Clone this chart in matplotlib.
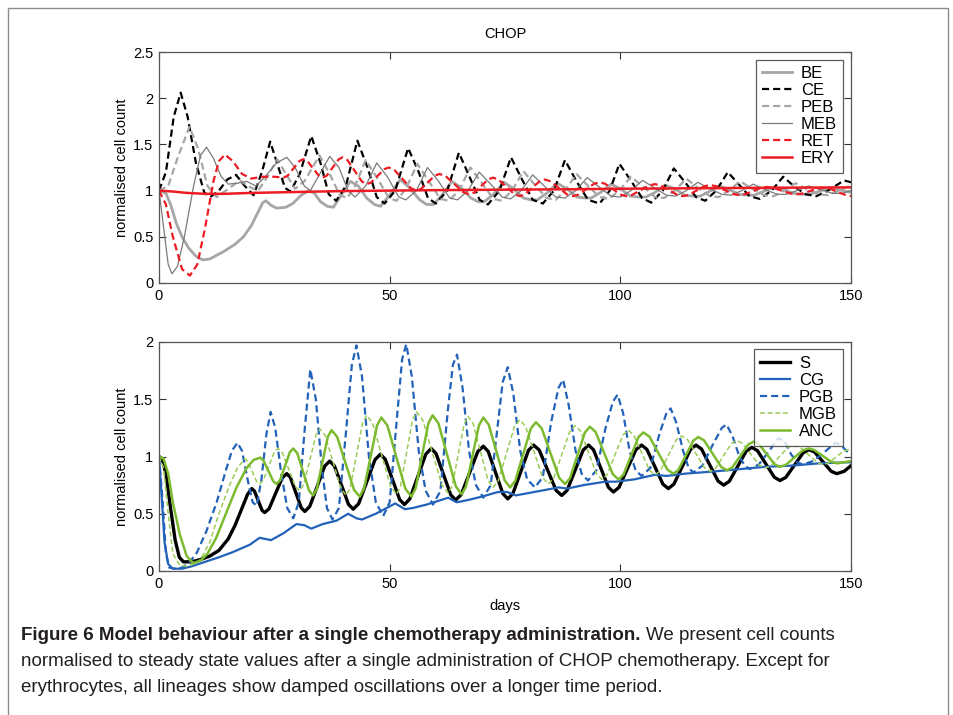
import matplotlib
matplotlib.use('Agg')
import matplotlib.pyplot as plt
from matplotlib.patches import Rectangle

# ---- top panel (erythroid lineage) ----
be_t = [0, 1.5, 2.5, 3.8, 5, 6.4, 8, 9.5, 11, 14, 16.5, 18.3, 20, 21.2, 22.5, 23.2, 24.3, 25.5, 27.5, 29,
        30.8, 32.5, 33.7, 35, 36.5, 37.8, 39.5, 41.5, 43.2, 45, 46.7, 48, 50, 52.3, 54.3, 56.5, 58, 59.5,
        61.3, 63.5, 65.5, 67.6, 69.2, 70.5, 72.5, 74.8, 76.8, 79, 80.6, 82, 84, 86.3, 88.4, 90.6, 92.3,
        93.7, 95.7, 98, 100, 102.2, 104, 105.5, 107.5, 109.7, 111.8, 114, 115.8, 117.3, 119.3, 121.5,
        123.6, 125.8, 127.6, 129, 131, 133.3, 135.4, 137.6, 139.5, 141, 143, 145.2, 147.3, 150]
be_y = [1.0, 0.97, 0.85, 0.64, 0.5, 0.38, 0.29, 0.25, 0.26, 0.34, 0.42, 0.5, 0.62, 0.74, 0.87, 0.89, 0.84,
        0.81, 0.82, 0.86, 0.95, 1.0, 0.97, 0.88, 0.83, 0.82, 0.95, 1.1, 1.05, 0.92, 0.85, 0.83, 0.95, 1.12,
        1.03, 0.9, 0.85, 0.85, 0.95, 1.1, 1.03, 0.92, 0.88, 0.88, 0.96, 1.09, 1.02, 0.92, 0.9, 0.9, 0.97,
        1.08, 1.02, 0.93, 0.92, 0.92, 0.98, 1.07, 1.02, 0.94, 0.93, 0.93, 0.98, 1.06, 1.02, 0.95, 0.94,
        0.94, 0.99, 1.05, 1.01, 0.96, 0.95, 0.95, 0.99, 1.04, 1.01, 0.97, 0.96, 0.96, 0.99, 1.03, 1.01, 0.98]

ce_t = [0, 1.5, 3.2, 4.7, 6.2, 8, 9.8, 11.1, 13, 14.8, 16.7, 18.6, 20.5, 22.3, 24.1, 25.9, 27.3, 28.5,
        30.5, 33, 35, 36.8, 38.4, 40.5, 43, 45.2, 47.2, 48.9, 51.2, 54, 56.3, 58.3, 60, 62.5, 65, 67.3,
        69.5, 71.3, 73.8, 76.3, 78.7, 81, 83.2, 85.6, 88, 90.5, 93, 95.5, 97.7, 99.8, 102.4, 104.7, 106.7,
        109.2, 111.6, 114.2, 116.4, 118.4, 120.8, 123.3, 125.8, 128, 130.2, 132.8, 135.3, 137.8, 140.2,
        142.5, 145, 148.5, 150]
ce_y = [1.0, 1.2, 1.8, 2.06, 1.8, 1.3, 0.98, 0.93, 1.0, 1.12, 1.17, 1.05, 0.95, 1.2, 1.53, 1.25, 1.03,
        0.99, 1.18, 1.59, 1.3, 0.96, 0.89, 1.05, 1.54, 1.25, 0.93, 0.86, 1.0, 1.46, 1.2, 0.92, 0.86, 1.0,
        1.41, 1.15, 0.9, 0.85, 1.0, 1.36, 1.12, 0.9, 0.86, 1.0, 1.33, 1.1, 0.9, 0.86, 1.0, 1.29, 1.1, 0.92,
        0.87, 1.0, 1.24, 1.08, 0.93, 0.89, 1.0, 1.2, 1.06, 0.94, 0.91, 1.0, 1.15, 1.04, 0.96, 0.94, 1.0,
        1.11, 1.09]

peb_t = [0, 2, 4, 6.6, 8.5, 10.5, 12.5, 14.5, 17.5, 20, 21.5, 23.5, 25.6, 27.5, 29.5, 31.5, 34.8, 37,
         39.2, 40.8, 42.5, 44.8, 47.5, 49.8, 51.5, 53.5, 56, 58.5, 61, 62.8, 65, 67.5, 70, 72.5, 74.3,
         76.5, 79, 81.5, 84, 86, 88, 90.5, 93, 95.5, 97.5, 99.8, 102.3, 105, 107.5, 109.5, 111.8, 114.3,
         116.8, 119.4, 121.4, 123.5, 126, 128.6, 131.2, 133.3, 135.5, 138, 140.6, 143, 145, 147.5, 150]
peb_y = [1.0, 1.05, 1.35, 1.69, 1.45, 1.05, 0.93, 1.0, 1.11, 1.03, 1.0, 1.15, 1.34, 1.18, 1.02, 1.1,
         1.38, 1.18, 0.95, 0.92, 1.05, 1.33, 1.12, 0.92, 0.89, 1.02, 1.29, 1.1, 0.91, 0.89, 1.0, 1.25, 1.08,
         0.91, 0.89, 1.0, 1.21, 1.06, 0.92, 0.9, 1.0, 1.18, 1.05, 0.93, 0.91, 1.0, 1.15, 1.04, 0.93, 0.92,
         1.0, 1.13, 1.03, 0.94, 0.93, 1.0, 1.1, 1.02, 0.95, 0.94, 1.0, 1.08, 1.01, 0.96, 0.95, 1.0, 1.06]

meb_t = [0, 1, 2, 2.8, 4, 5.5, 7.5, 9, 10.3, 11.8, 13.5, 15, 17, 19, 21, 23, 25.5, 27.7, 29.5, 31.5,
         32.8, 34.5, 37, 39, 41, 42.5, 44.8, 47.2, 49.5, 52, 53.5, 55.8, 58.2, 60.6, 63, 64.7, 67, 69.4,
         71.9, 74.4, 76.2, 78.5, 81, 83.5, 86, 88, 90.3, 92.8, 95.4, 98, 100, 102.3, 104.8, 107.4, 110,
         112, 114.3, 116.8, 119.4, 122, 124, 126.3, 128.8, 131.4, 134, 136, 138.3, 140.8, 143.4, 146, 148,
         150]
meb_y = [1.0, 0.6, 0.2, 0.1, 0.18, 0.5, 1.05, 1.38, 1.47, 1.35, 1.15, 1.07, 1.08, 1.1, 1.05, 1.15, 1.3,
         1.36, 1.25, 1.05, 1.0, 1.15, 1.37, 1.25, 1.0, 0.93, 1.05, 1.3, 1.15, 0.93, 0.9, 1.0, 1.25, 1.1,
         0.92, 0.9, 1.0, 1.2, 1.07, 0.93, 0.91, 1.0, 1.17, 1.05, 0.93, 0.92, 1.0, 1.14, 1.04, 0.94, 0.93,
         1.0, 1.11, 1.03, 0.95, 0.94, 1.0, 1.09, 1.02, 0.96, 0.95, 1.0, 1.07, 1.01, 0.96, 0.96, 1.0, 1.05,
         1.01, 0.97, 0.97, 1.0]

ret_t = [0, 1.5, 3, 5, 6.7, 8.3, 10, 11.8, 13, 14.3, 16, 18, 20, 22.5, 25, 27,
         27.86, 29.15, 30.44, 31.3, 32.14, 33.4, 34.66, 35.5, 36.36, 37.65, 38.94, 39.8,
         40.84, 42.4, 43.96, 45, 45.96, 47.4, 48.84, 49.8, 51, 52.8, 54.6, 55.8,
         56.8, 58.3, 59.8, 60.8, 62.1, 64.05, 66, 67.3, 68.32, 69.85, 71.38, 72.4,
         73.56, 75.3, 77.04, 78.2, 79.28, 80.9, 82.52, 83.6, 84.82, 86.65, 88.48, 89.7,
         90.86, 92.6, 94.34, 95.5, 96.66, 98.4, 100.14, 101.3, 102.54, 104.4, 106.26, 107.5,
         108.72, 110.55, 112.38, 113.6, 114.76, 116.5, 118.24, 119.4, 120.7, 122.65, 124.6, 125.9,
         126.86, 128.8, 130.54, 131.7, 133, 134.95, 136.9, 138.2, 139.36, 141.1, 142.84, 144,
         145.5, 147.3, 149, 150]
ret_y = [1.0, 0.85, 0.5, 0.15, 0.08, 0.2, 0.6, 1.1, 1.32, 1.39, 1.32, 1.18, 1.13, 1.15, 1.15, 1.14,
         1.16, 1.24, 1.32, 1.34, 1.32, 1.24, 1.16, 1.14, 1.162, 1.25, 1.338, 1.36,
         1.331, 1.215, 1.099, 1.07, 1.088, 1.16, 1.232, 1.25, 1.225, 1.125, 1.025, 1.0,
         1.018, 1.09, 1.162, 1.18, 1.158, 1.07, 0.982, 0.96, 0.978, 1.05, 1.122, 1.14,
         1.12, 1.04, 0.96, 0.94, 0.958, 1.03, 1.102, 1.12, 1.102, 1.03, 0.958, 0.94,
         0.955, 1.015, 1.075, 1.09, 1.075, 1.015, 0.955, 0.94, 0.953, 1.005, 1.057, 1.07,
         1.057, 1.005, 0.953, 0.94, 0.952, 1.0, 1.048, 1.06, 1.049, 1.005, 0.961, 0.95,
         0.959, 0.995, 1.031, 1.04, 1.032, 1.0, 0.968, 0.96, 0.967, 0.995, 1.023, 1.03,
         1.02, 0.98, 0.95, 0.94]

ery_t = [0, 3, 6, 10, 14, 20, 30, 40, 50, 60, 75, 90, 100, 115, 130, 150]
ery_y = [1.0, 0.99, 0.975, 0.965, 0.965, 0.975, 0.985, 0.995, 1.0, 1.005, 1.01, 1.015, 1.02, 1.025,
         1.03, 1.035]

# ---- bottom panel (granulocyte lineage) ----
s_t = [0, 0.7, 1.5, 2.5, 3.5, 4.4, 5.3, 7, 9, 11, 13, 15, 16.5, 18, 19.2, 20.1,
       20.66, 21.5, 22.34, 22.9, 23.86, 25.3, 26.74, 27.7, 28.48, 29.65, 30.82, 31.6,
       32.68, 34.3, 35.92, 37, 38.02, 39.55, 41.08, 42.1, 43.28, 45.05, 46.82, 48,
       49.04, 50.6, 52.16, 53.2, 54.36, 56.1, 57.84, 59, 60.06, 61.65, 63.24, 64.3,
       65.5, 67.3, 69.1, 70.3, 71.36, 72.95, 74.54, 75.6, 76.72, 78.4, 80.08, 81.2,
       82.42, 84.25, 86.08, 87.3, 88.46, 90.2, 91.94, 93.1, 94.18, 95.8, 97.42, 98.5,
       99.72, 101.55, 103.38, 104.6, 105.76, 107.5, 109.24, 110.4, 111.6, 113.4, 115.2, 116.4,
       117.6, 119.4, 121.2, 122.4, 123.62, 125.45, 127.28, 128.5, 129.72, 131.55, 133.38, 134.6,
       135.86, 137.75, 139.64, 140.9, 142.1, 143.9, 145.7, 146.9, 148.5, 150]
s_y = [1.0, 0.98, 0.85, 0.55, 0.27, 0.12, 0.08, 0.08, 0.1, 0.13, 0.18, 0.28, 0.4, 0.55, 0.67, 0.72,
       0.70, 0.615, 0.53, 0.51, 0.544, 0.68, 0.816, 0.85, 0.817, 0.685, 0.553, 0.52,
       0.564, 0.74, 0.916, 0.96, 0.918, 0.75, 0.582, 0.54, 0.588, 0.78, 0.972, 1.02,
       0.976, 0.80, 0.624, 0.58, 0.629, 0.825, 1.021, 1.07, 1.025, 0.845, 0.665, 0.62,
       0.667, 0.855, 1.043, 1.09, 1.044, 0.86, 0.676, 0.63, 0.677, 0.865, 1.053, 1.10,
       1.056, 0.88, 0.704, 0.66, 0.704, 0.88, 1.056, 1.10, 1.059, 0.895, 0.731, 0.69,
       0.731, 0.895, 1.059, 1.10, 1.062, 0.91, 0.758, 0.72, 0.758, 0.91, 1.062, 1.10,
       1.065, 0.925, 0.785, 0.75, 0.783, 0.915, 1.047, 1.08, 1.051, 0.935, 0.819, 0.79,
       0.817, 0.925, 1.033, 1.06, 1.039, 0.955, 0.871, 0.85, 0.87, 0.92]

cg_t = [0, 0.5, 1.2, 2, 3, 5, 7, 10, 13, 16, 19.7, 21.8, 23, 24.3, 27, 29.8, 31.5, 33, 35.5, 38.5, 41,
        42.8, 44, 47, 51.2, 53.3, 55, 58, 62.7, 64.5, 67, 70, 73.5, 75.5, 77.3, 80, 84, 86.6, 88.5, 92,
        96.7, 99, 103, 107.5, 110, 114, 120.5, 126, 131.4, 137, 143, 150]
cg_y = [1.0, 0.7, 0.25, 0.06, 0.02, 0.02, 0.04, 0.08, 0.12, 0.165, 0.23, 0.29, 0.28, 0.27, 0.33, 0.41,
        0.4, 0.37, 0.41, 0.44, 0.5, 0.46, 0.45, 0.5, 0.59, 0.54, 0.55, 0.58, 0.64, 0.6, 0.62, 0.65, 0.69,
        0.69, 0.66, 0.68, 0.71, 0.73, 0.72, 0.75, 0.78, 0.78, 0.8, 0.84, 0.83, 0.85, 0.87, 0.89, 0.91,
        0.92, 0.94, 0.95]

pgb_t = [0, 0.8, 1.5, 2.2, 3.5, 5, 6.5, 8.2, 10.3, 12.5, 14.5, 15.8, 17, 18, 19.2, 20.3, 21.2, 22.2,
         23.3, 24.2, 25.2, 26.5, 27.8, 29.1, 30.3, 31.5, 32.8, 34, 35.3, 36.4, 37.6, 39, 40.5, 41.8, 42.8,
         44, 45.5, 47, 48.6, 50, 51.5, 52.7, 53.6, 54.8, 56.3, 57.8, 59.4, 61, 62.6, 63.7, 64.6, 65.8,
         67.2, 68.7, 70.3, 71.9, 73.5, 74.5, 75.6, 76.8, 78.3, 79.8, 81.5, 83.2, 85, 86.6, 87.6, 88.8,
         90.3, 91.6, 93, 94.8, 96.8, 98.4, 99.4, 100.6, 102, 103.3, 104.6, 106.5, 108.5, 110, 110.9, 112.1,
         113.6, 114.8, 115.8, 117.8, 120, 122, 123, 124.3, 125.8, 127, 128, 130, 132.3, 134.2, 135.5, 137,
         138.3, 139.5, 141.8, 144.3, 146.6, 147.8, 149, 150]
pgb_y = [1.0, 0.6, 0.15, 0.03, 0.02, 0.03, 0.07, 0.16, 0.35, 0.6, 0.88, 1.05, 1.12, 1.05, 0.8, 0.6,
         0.57, 0.8, 1.2, 1.39, 1.25, 0.85, 0.55, 0.46, 0.6, 1.2, 1.76, 1.5, 0.9, 0.55, 0.45, 0.55, 1.2,
         1.8, 1.97, 1.7, 1.0, 0.6, 0.48, 0.6, 1.3, 1.85, 1.98, 1.7, 1.05, 0.7, 0.58, 0.7, 1.4, 1.8, 1.89,
         1.6, 1.05, 0.75, 0.64, 0.75, 1.3, 1.65, 1.78, 1.55, 1.05, 0.8, 0.73, 0.82, 1.3, 1.6, 1.67, 1.45,
         1.05, 0.85, 0.79, 0.88, 1.25, 1.48, 1.54, 1.38, 1.05, 0.88, 0.83, 0.9, 1.2, 1.38, 1.42, 1.3, 1.05,
         0.9, 0.86, 0.92, 1.1, 1.25, 1.28, 1.18, 1.0, 0.92, 0.89, 0.93, 1.05, 1.16, 1.14, 1.02, 0.95, 0.93,
         0.96, 1.04, 1.12, 1.1, 1.05, 1.02]

mgb_t = [0, 1, 2, 3, 4.5, 6, 7.5, 9, 11, 13, 15.3, 17, 18.6,
         19.24, 20.2, 21.16, 21.8, 22.6, 23.8, 25, 25.8, 26.74, 28.15, 29.56, 30.5,
         31.38, 32.7, 34.02, 34.9, 36.04, 37.75, 39.46, 40.6, 41.48, 42.8, 44.12, 45,
         46.3, 48.25, 50.2, 51.5, 52.36, 53.65, 54.94, 55.8, 57.18, 59.25, 61.32, 62.7,
         63.56, 64.85, 66.14, 67, 68.08, 69.7, 71.32, 72.4, 73.56, 75.3, 77.04, 78.2,
         79.44, 81.3, 83.16, 84.4, 85.56, 87.3, 89.04, 90.2, 91.36, 93.1, 94.84, 96,
         97.14, 98.85, 100.56, 101.7, 102.86, 104.6, 106.34, 107.5, 108.66, 110.4, 112.14, 113.3,
         114.54, 116.4, 118.26, 119.5, 120.64, 122.35, 124.06, 125.2, 126.44, 128.3, 130.16, 131.4,
         132.64, 134.5, 136.36, 137.6, 138.88, 140.8, 142.72, 144, 145.1, 146.75, 148.4, 149.5, 150]
mgb_y = [1.0, 0.9, 0.5, 0.15, 0.05, 0.04, 0.06, 0.1, 0.25, 0.5, 0.75, 0.9, 0.98,
         0.958, 0.87, 0.782, 0.76, 0.791, 0.915, 1.039, 1.07, 1.033, 0.885, 0.737, 0.70,
         0.754, 0.97, 1.186, 1.24, 1.182, 0.95, 0.718, 0.66, 0.73, 1.01, 1.29, 1.36,
         1.291, 1.015, 0.739, 0.67, 0.742, 1.03, 1.318, 1.39, 1.319, 1.035, 0.751, 0.68,
         0.747, 1.015, 1.283, 1.35, 1.288, 1.04, 0.792, 0.73, 0.789, 1.025, 1.261, 1.32,
         1.264, 1.04, 0.816, 0.76, 0.811, 1.015, 1.219, 1.27, 1.223, 1.035, 0.847, 0.80,
         0.843, 1.015, 1.187, 1.23, 1.191, 1.035, 0.879, 0.84, 0.874, 1.01, 1.146, 1.18,
         1.149, 1.025, 0.901, 0.87, 0.897, 1.005, 1.113, 1.14, 1.116, 1.02, 0.924, 0.90,
         0.92, 1.0, 1.08, 1.10, 1.083, 1.015, 0.947, 0.93, 0.943, 0.995, 1.047, 1.06, 1.06]

anc_t = [0, 1, 2, 3, 4.5, 6, 7.4, 9, 10.5, 12.4, 14.5, 16.8, 19, 20.5, 21.9,
         22.62, 23.7, 24.78, 25.5, 26.22, 27.3, 28.38, 29.1, 29.96, 31.25, 32.54, 33.4,
         34.2, 35.4, 36.6, 37.4, 38.62, 40.45, 42.28, 43.5, 44.44, 45.85, 47.26, 48.2,
         49.5, 51.45, 53.4, 54.7, 55.62, 57, 58.38, 59.3, 60.56, 62.45, 64.34, 65.6,
         66.54, 67.95, 69.36, 70.3, 71.46, 73.2, 74.94, 76.1, 77.22, 78.9, 80.58, 81.7,
         82.96, 84.85, 86.74, 88, 89.08, 90.7, 92.32, 93.4, 94.64, 96.5, 98.36, 99.6,
         100.68, 102.3, 103.92, 105, 106.3, 108.25, 110.2, 111.5, 112.58, 114.2, 115.82, 116.9,
         118.14, 120, 121.86, 123.1, 124.26, 126, 127.74, 128.9, 130.04, 131.75, 133.46, 134.6,
         135.84, 137.7, 139.56, 140.8, 142.04, 143.9, 145.76, 147, 150]
anc_y = [1.0, 0.98, 0.85, 0.6, 0.32, 0.13, 0.07, 0.09, 0.15, 0.29, 0.5, 0.73, 0.9, 0.97, 0.99,
         0.967, 0.875, 0.783, 0.76, 0.791, 0.915, 1.039, 1.07, 1.029, 0.865, 0.701, 0.66,
         0.717, 0.945, 1.173, 1.23, 1.172, 0.94, 0.708, 0.65, 0.719, 0.995, 1.271, 1.34,
         1.271, 0.995, 0.719, 0.65, 0.721, 1.005, 1.289, 1.36, 1.291, 1.015, 0.739, 0.67,
         0.737, 1.005, 1.273, 1.34, 1.279, 1.035, 0.791, 0.73, 0.787, 1.015, 1.243, 1.30,
         1.246, 1.03, 0.814, 0.76, 0.81, 1.01, 1.21, 1.26, 1.214, 1.03, 0.846, 0.80,
         0.841, 1.005, 1.169, 1.21, 1.174, 1.03, 0.886, 0.85, 0.882, 1.01, 1.138, 1.17,
         1.141, 1.025, 0.909, 0.88, 0.905, 1.005, 1.105, 1.13, 1.108, 1.02, 0.932, 0.91,
         0.926, 0.99, 1.054, 1.07, 1.057, 1.005, 0.953, 0.94, 0.96]

# colours
GRAY_LIGHT = '#a6a6a6'
GRAY_DARK = '#7a7a7a'
RED = '#ed1c24'
BLUE = '#2262b8'
GREEN = '#7cba2f'
GREEN_LIGHT = '#9ccc55'
DASH = (3.2, 1.8)
TEXT = '#231f20'

plt.rcParams['font.family'] = ['Liberation Sans', 'DejaVu Sans']
plt.rcParams['font.size'] = 10

fig = plt.figure(figsize=(9.54, 7.15), dpi=100)

# outer frame of the figure panel
fig.patches.append(Rectangle((8 / 954, -0.01), 940 / 954, 1 - 8 / 715 + 0.01,
                             transform=fig.transFigure, fill=False,
                             edgecolor='#8c8c8c', linewidth=1.0))

ax1 = fig.add_axes([159 / 954, 1 - 283 / 715, 692 / 954, 231 / 715])
ax2 = fig.add_axes([159 / 954, 1 - 571 / 715, 692 / 954, 229 / 715])

ax1.plot(be_t, be_y, color=GRAY_LIGHT, lw=2.0, label='BE')
ax1.plot(ce_t, ce_y, color='black', lw=1.6, dashes=DASH, label='CE')
ax1.plot(peb_t, peb_y, color=GRAY_LIGHT, lw=1.6, dashes=DASH, label='PEB')
ax1.plot(meb_t, meb_y, color=GRAY_DARK, lw=0.9, label='MEB')
ax1.plot(ret_t, ret_y, color=RED, lw=1.6, dashes=DASH, label='RET')
ax1.plot(ery_t, ery_y, color=RED, lw=1.8, label='ERY')
ax1.set_ylim(0, 2.5)
ax1.set_yticks([0, 0.5, 1, 1.5, 2, 2.5])
ax1.set_yticklabels(['0', '0.5', '1', '1.5', '2', '2.5'])
ax1.set_title('CHOP', fontsize=10.5, pad=10)

ax2.plot(s_t, s_y, color='black', lw=2.4, label='S')
ax2.plot(cg_t, cg_y, color=BLUE, lw=1.6, label='CG')
ax2.plot(pgb_t, pgb_y, color=BLUE, lw=1.6, dashes=DASH, label='PGB')
ax2.plot(mgb_t, mgb_y, color=GREEN_LIGHT, lw=1.1, dashes=DASH, label='MGB')
ax2.plot(anc_t, anc_y, color=GREEN, lw=1.8, label='ANC')
ax2.set_ylim(0, 2)
ax2.set_yticks([0, 0.5, 1, 1.5, 2])
ax2.set_yticklabels(['0', '0.5', '1', '1.5', '2'])
ax2.set_xlabel('days', fontsize=10.5, labelpad=6)

for ax in (ax1, ax2):
    ax.set_xlim(0, 150)
    ax.set_xticks([0, 50, 100, 150])
    ax.tick_params(direction='in', top=True, right=True, length=5, width=0.8,
                   labelsize=10.5, pad=4, colors='#333333', labelcolor='black')
    for sp in ax.spines.values():
        sp.set_color('#555555')
        sp.set_linewidth(0.9)
    ax.set_ylabel('normalised cell count', fontsize=10.5, labelpad=3)
    leg = ax.legend(loc='upper right', fontsize=12, frameon=True, fancybox=False,
                    edgecolor='#333333', handlelength=1.75, handletextpad=0.55,
                    labelspacing=0.12, borderpad=0.4, borderaxespad=0.45)
    leg.get_frame().set_linewidth(0.9)

# caption: bold lead-in followed by regular text
cap_font = ['Liberation Sans', 'DejaVu Sans']
y1 = 1 - 640 / 715
bold = fig.text(21 / 954, y1, 'Figure 6 Model behaviour after a single chemotherapy administration.',
                family=cap_font, fontsize=13.5, fontweight='bold', va='baseline', color=TEXT)
fig.canvas.draw()
bb = bold.get_window_extent(renderer=fig.canvas.get_renderer())
fig.text((bb.x1 + 6) / fig.bbox.width, y1, 'We present cell counts',
         family=cap_font, fontsize=13.5, va='baseline', color=TEXT)
fig.text(21 / 954, 1 - 666 / 715,
         'normalised to steady state values after a single administration of CHOP chemotherapy. Except for',
         family=cap_font, fontsize=13.5, va='baseline', color=TEXT)
fig.text(21 / 954, 1 - 692 / 715,
         'erythrocytes, all lineages show damped oscillations over a longer time period.',
         family=cap_font, fontsize=13.5, va='baseline', color=TEXT)

fig.savefig('out.png', dpi=100)
